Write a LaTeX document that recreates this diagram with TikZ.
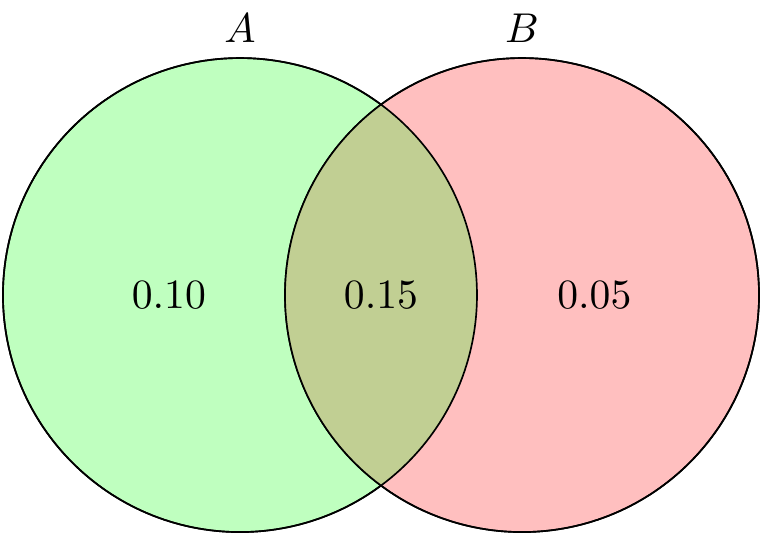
\documentclass[tikz,border=0pt]{standalone}
\definecolor{interfill}{RGB}{193,207,147}
\tikzset{
  setcirc/.style={circle, draw=black, line width=0.4pt, minimum size=4cm, inner sep=0pt},
  lbl/.style={font=\normalsize}
}
\begin{document}
\begin{tikzpicture}
\useasboundingbox (-2.025,-2.025) rectangle (4.405,2.49);
\node[setcirc, fill=green!25] (a) at (0,0) {};
\node[setcirc, fill=red!25] (b) at (2.38,0) {};
\begin{scope}
  \clip (0,0) circle (2cm);
  \fill[interfill] (2.38,0) circle (2cm);
\end{scope}
\draw (a.center) circle (2cm);
\draw (b.center) circle (2cm);
\node[above] (la) at (a.north) {$A$};
\node[above] (lb) at (b.north) {$B$};
\node (va) at (-0.6,0) {$0.10$};
\node (vab) at (1.19,0) {$0.15$};
\node (vb) at (2.99,0) {$0.05$};
\end{tikzpicture}
\end{document}
